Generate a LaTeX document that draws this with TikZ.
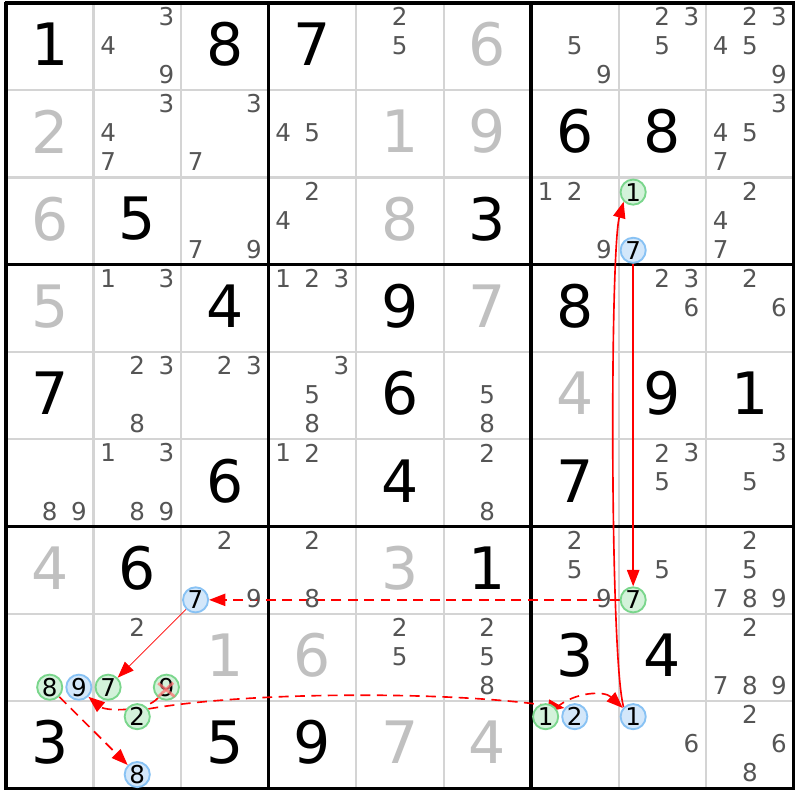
\documentclass[tikz,border=0pt]{standalone}
\usepackage{fontspec}
\setmainfont{DejaVu Sans}
\usetikzlibrary{arrows.meta}
\definecolor{candgray}{HTML}{555555}
\definecolor{solvedgray}{HTML}{C0C0C0}
\definecolor{gridgray}{HTML}{D4D4D4}
\definecolor{gfill}{HTML}{D3F2DA}
\definecolor{gline}{HTML}{7AD68C}
\definecolor{bfill}{HTML}{D3E7FA}
\definecolor{bline}{HTML}{88C2F4}
\pgfdeclarelayer{bg}
\pgfdeclarelayer{links}
\pgfsetlayers{bg,links,main}
\begin{document}
\begin{tikzpicture}[x=0.3mm,y=-0.3mm,
  given/.style={font=\fontsize{50}{50}\selectfont, text=black, inner sep=0pt},
  solved/.style={given, text=solvedgray},
  cand/.style={font=\fontsize{21}{21}\selectfont, text=candgray, inner sep=0pt},
  gcirc/.style={circle, draw=gline, fill=gfill, line width=1.6pt, minimum size=21.5pt, inner sep=0pt, font=\fontsize{21}{21}\selectfont, text=black},
  bcirc/.style={gcirc, draw=bline, fill=bfill},
  thinline/.style={draw=gridgray, line width=1.8pt},
  thickline/.style={draw=black, line width=2.8pt},
  strong/.style={draw=red, line width=1.4pt, -{Triangle[length=14pt,width=10.5pt]}},
  weak/.style={strong, dash pattern=on 8.5pt off 5.5pt},
  cross/.style={draw=red!55, line width=2.4pt, opacity=0.75}
]
\begin{pgfonlayer}{bg}
\fill[white] (0,0) rectangle (800,800);
\foreach \i in {1,2,4,5,7,8} {
  \draw[thinline] ({6+\i*87.67},1.5) -- ({6+\i*87.67},788.5);
  \draw[thinline] (6,{1.5+\i*87.44}) -- (795,{1.5+\i*87.44});
}
\foreach \i in {0,3,6,9} {
  \draw[thickline] ({6+\i*87.67},0.2) -- ({6+\i*87.67},789.8);
  \draw[thickline] (4.7,{1.5+\i*87.44}) -- (796.3,{1.5+\i*87.44});
}
\end{pgfonlayer}
% given digits
\foreach \r/\c/\d in {0/0/1,0/2/8,0/3/7,1/6/6,1/7/8,2/1/5,2/5/3,3/2/4,3/4/9,3/6/8,4/0/7,4/4/6,4/7/9,4/8/1,5/2/6,5/4/4,5/6/7,6/1/6,6/5/1,7/6/3,7/7/4,8/0/3,8/2/5,8/3/9}
  \node[given] (big-\r-\c) at ({6+\c*87.67+43.8},{1.5+\r*87.44+41.5}) {\d};
% solved digits
\foreach \r/\c/\d in {0/5/6,1/0/2,1/4/1,1/5/9,2/0/6,2/4/8,3/0/5,3/5/7,4/6/4,6/0/4,6/4/3,7/2/1,7/3/6,8/4/7,8/5/4}
  \node[solved] (big-\r-\c) at ({6+\c*87.67+43.8},{1.5+\r*87.44+41.5}) {\d};
% candidates
\foreach \r/\c/\d in {0/1/3,0/1/4,0/1/9,0/4/2,0/4/5,0/6/5,0/6/9,0/7/2,0/7/3,0/7/5,0/8/2,0/8/3,0/8/4,0/8/5,0/8/9,
  1/1/3,1/1/4,1/1/7,1/2/3,1/2/7,1/3/4,1/3/5,1/8/3,1/8/4,1/8/5,1/8/7,
  2/2/7,2/2/9,2/3/2,2/3/4,2/6/1,2/6/2,2/6/9,2/8/2,2/8/4,2/8/7,
  3/1/1,3/1/3,3/3/1,3/3/2,3/3/3,3/7/2,3/7/3,3/7/6,3/8/2,3/8/6,
  4/1/2,4/1/3,4/1/8,4/2/2,4/2/3,4/3/3,4/3/5,4/3/8,4/5/5,4/5/8,
  5/0/8,5/0/9,5/1/1,5/1/3,5/1/8,5/1/9,5/3/1,5/3/2,5/5/2,5/5/8,5/7/2,5/7/3,5/7/5,5/8/3,5/8/5,
  6/2/2,6/2/9,6/3/2,6/3/8,6/6/2,6/6/5,6/6/9,6/7/5,6/8/2,6/8/5,6/8/7,6/8/8,6/8/9,
  7/1/2,7/4/2,7/4/5,7/5/2,7/5/5,7/5/8,7/8/2,7/8/7,7/8/8,7/8/9,
  8/7/6,8/8/2,8/8/6,8/8/8} {
  \pgfmathsetmacro\kk{mod(\d-1,3)}
  \pgfmathsetmacro\jj{int((\d-1)/3)}
  \node[cand] (cand-\r-\c-\d) at ({20.6+\c*87.67+\kk*29.2},{15.1+\r*87.44+\jj*29.15}) {\d};
}
% chain candidates
\node[gcirc] (g1a) at (634.3,191.0) {1};
\node[bcirc] (b7a) at (634.3,249.3) {7};
\node[gcirc] (g7a) at (634.3,599.5) {7};
\node[bcirc] (b7b) at (195.9,599.5) {7};
\node[gcirc] (g8a) at (49.8,687.0) {8};
\node[bcirc] (b9a) at (79.0,687.0) {9};
\node[gcirc] (g7b) at (108.3,687.0) {7};
\node[gcirc] (g9a) at (166.7,687.0) {9};
\node[gcirc] (g2a) at (137.5,716.5) {2};
\node[bcirc] (b8a) at (137.5,774.5) {8};
\node[gcirc] (g1b) at (546.6,716.5) {1};
\node[bcirc] (b2a) at (575.8,716.5) {2};
\node[bcirc] (b1a) at (634.3,716.5) {1};
% elimination mark
\draw[cross] (158.5,683) -- (175,696.5);
\draw[cross] (158.5,696.5) -- (173.5,682.5);
% links
\begin{pgfonlayer}{links}
\draw[strong] (b7a) -- (g7a);
\draw[weak] (g7a) -- (b7b);
\draw[strong, line width=0.7pt] (b7b) -- (g7b);
\draw[weak] (g8a) -- (b8a);
\draw[weak] (g9a.-128) .. controls (146,712) and (106,711) .. (b9a.-45);
\draw[weak] (g2a.35) .. controls (250,691) and (450,691) .. (b2a.140);
\draw[weak] (g1b.40) .. controls (575,692) and (605,690) .. (b1a.140);
\draw[strong] (b1a.135) .. controls (611,660) and (611,250) .. (g1a.-135);
\end{pgfonlayer}
\end{tikzpicture}
\end{document}
